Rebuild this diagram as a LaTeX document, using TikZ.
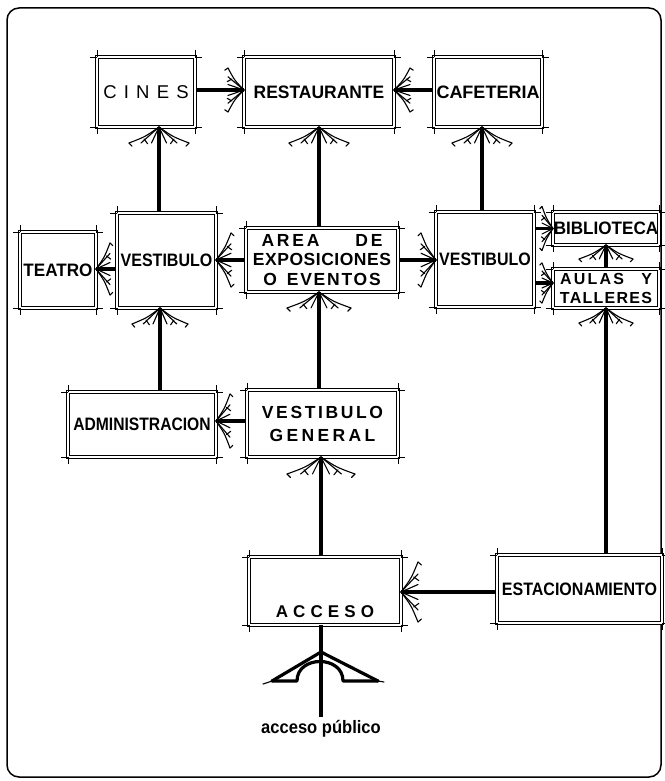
\documentclass[tikz,border=0pt]{standalone}
\usepackage{fontspec}
\setmainfont{Liberation Sans}
\usetikzlibrary{calc}
\newcommand\cnd{\bfseries\fontsize{18}{20}\selectfont}
\newcommand\ls[1]{\addfontfeature{LetterSpace=#1}}
\newcommand\sx[2]{\scalebox{#1}[1]{#2}}
\newcommand\fanarrow[4]{%
  \begin{scope}[shift={(#1)}, rotate=#2, x=1pt, y=1pt]
    \draw[fanline] (0,0) .. controls (-0.6*#4,0.45*#3) .. (-#4,#3);
    \draw[fanline] (0,0) .. controls (-0.6*#4,-0.45*#3) .. (-#4,-#3);
    \draw[fanline] (0,0) -- (-#4,0.6*#3);
    \draw[fanline] (0,0) -- (-#4,-0.6*#3);
    \draw[fanline] (0,0) -- (-#4,0.25*#3);
    \draw[fanline] (0,0) -- (-#4,-0.25*#3);
    \draw[fanline] (-0.75*#4,0.5*#3) -- (-1.05*#4,0.38*#3);
    \draw[fanline] (-0.75*#4,-0.5*#3) -- (-1.05*#4,-0.38*#3);
    \draw[fanline] (-#4,#3) -- (-1.2*#4,0.9*#3);
    \draw[fanline] (-#4,-#3) -- (-1.2*#4,-0.9*#3);
  \end{scope}}
\tikzset{
  room/.style={draw, line width=1.1pt, double=white, double distance=1.5pt,
    inner sep=0pt, outer sep=0pt, font=\cnd},
  conn/.style={line width=3.2pt, shorten <=2pt},
  fanline/.style={line width=1.1pt, line cap=round},
  tick/.style={line width=0.7pt},
  bigline/.style={line width=3.2pt, line join=round, line cap=round},
}
\begin{document}
\begin{tikzpicture}[x=1pt, y=-1pt]
\useasboundingbox (0,0) rectangle (664,781);
\draw[line width=1.5pt, rounded corners=12pt] (7,8) rectangle (661,777);

% rooms
\node[room, minimum width=98pt, minimum height=70pt,
  font=\fontsize{18.5}{20}\selectfont] (cines) at (146,92)
  {\ls{39}CINES};
\node[room, minimum width=150pt, minimum height=70pt] (rest) at (319,92) {\sx{0.97}{RESTAURANTE}};
\node[room, minimum width=108pt, minimum height=70pt] (cafe) at (488,92) {CAFETERIA};
\node[room, minimum width=76pt, minimum height=76pt] (teatro) at (58,270) {\sx{0.95}{TEATRO}};
\node[room, minimum width=99pt, minimum height=95pt] (vl) at (166.5,260.5) {\sx{0.89}{VESTIBULO}};
\node[room, minimum width=152pt, minimum height=64pt, align=center,
  font=\bfseries\fontsize{17.5}{19.5}\selectfont] (area) at (322,260)
  {\makebox[121pt]{\ls{16}AREA\hfill DE}\\{\ls{3}EXPOSICIONES}\\{\ls{10}O\hspace{10pt}EVENTOS}};
\node[room, minimum width=98pt, minimum height=95pt] (vr) at (485,259.5) {\sx{0.89}{VESTIBULO}};
\node[room, minimum width=106pt, minimum height=33pt] (bib) at (606,228.5) {\sx{0.95}{BIBLIOTECA}};
\node[room, minimum width=106pt, minimum height=39pt, align=center,
  font=\bfseries\fontsize{16}{19}\selectfont] (aulas) at (606,288.5)
  {\makebox[92pt]{\ls{14}AULAS\hfill Y}\\{\ls{8}TALLERES}};
\node[room, minimum width=148pt, minimum height=65pt] (adm) at (142,424.5)
  {\sx{0.87}{ADMINISTRACION}};
\node[room, minimum width=151pt, minimum height=67pt, align=center,
  font=\bfseries\fontsize{17.5}{23}\selectfont] (vg) at (322.5,423.5)
  {{\ls{15}VESTIBULO}\\{\ls{19}GENERAL}};
\node[room, minimum width=152pt, minimum height=68pt] (acceso) at (325,591) {};
\node[font=\bfseries\fontsize{17}{18}\selectfont] (accesolbl) at ([yshift=-21pt]acceso.center)
  {\ls{30}ACCESO};
\node[room, minimum width=165pt, minimum height=68pt] (est) at (579.5,589)
  {\sx{0.89}{ESTACIONAMIENTO}};
\node[font=\bfseries\fontsize{18}{20}\selectfont, inner sep=1pt] (publbl) at (321,729)
  {\sx{0.92}{acceso público}};

% corner ticks
\foreach \n in {cines,rest,cafe,teatro,vl,area,vr,bib,aulas,adm,vg,acceso,est}{
  \draw[tick] (\n.north west) -- ++(-7pt,0) (\n.north west) -- ++(0,7pt)
    (\n.north east) -- ++(7pt,0) (\n.north east) -- ++(0,7pt)
    (\n.south west) -- ++(-7pt,0) (\n.south west) -- ++(0,-7pt)
    (\n.south east) -- ++(7pt,0) (\n.south east) -- ++(0,-7pt);
}

% vertical connectors
\coordinate (a1) at ([xshift=-7.5pt]vl.north);
\coordinate (a2) at (a1 |- cines.south);
\draw[conn] (a1) -- (a2); \fanarrow{a2}{90}{30}{16}
\coordinate (b1) at (rest.south |- area.north);
\draw[conn] (b1) -- (rest.south); \fanarrow{rest.south}{90}{30}{16}
\coordinate (c1) at ([xshift=-3pt]vr.north);
\coordinate (c2) at (c1 |- cafe.south);
\draw[conn] (c1) -- (c2); \fanarrow{c2}{90}{30}{16}
\coordinate (d2) at ([xshift=-6.5pt]vl.south);
\coordinate (d1) at (d2 |- adm.north);
\draw[conn] (d1) -- (d2); \fanarrow{d2}{90}{28}{16}
\coordinate (e2) at ([xshift=-3pt]area.south);
\coordinate (e1) at (e2 |- vg.north);
\draw[conn] (e1) -- (e2); \fanarrow{e2}{90}{32}{16}
\coordinate (f2) at ([xshift=-1.5pt]vg.south);
\coordinate (f1) at (f2 |- acceso.north);
\draw[conn] (f1) -- (f2); \fanarrow{f2}{90}{34}{17}
\coordinate (g1) at (aulas.south |- est.north);
\draw[conn] (g1) -- (aulas.south); \fanarrow{aulas.south}{90}{27}{15}
\draw[conn] (aulas.north) -- (bib.south); \fanarrow{bib.south}{90}{27}{14}

% horizontal connectors
\coordinate (j1) at ([yshift=2pt]cines.east);
\coordinate (j2) at (rest.west |- j1);
\draw[conn] (j1) -- (j2); \fanarrow{j2}{0}{22}{16}
\coordinate (k2) at ([yshift=2pt]rest.east);
\coordinate (k1) at (cafe.west |- k2);
\draw[conn] (k1) -- (k2); \fanarrow{k2}{180}{22}{16}
\coordinate (l2) at ([yshift=1pt]teatro.east);
\coordinate (l1) at (vl.west |- l2);
\draw[conn] (l1) -- (l2); \fanarrow{l2}{180}{26}{14}
\coordinate (m2) at (vl.east |- area.west);
\draw[conn] (area.west) -- (m2); \fanarrow{m2}{180}{27}{15}
\coordinate (n2) at (vr.west |- area.east);
\draw[conn] (area.east) -- (n2); \fanarrow{n2}{0}{27}{15}
\coordinate (o1) at (vr.east |- bib.west);
\draw[conn] (o1) -- (bib.west); \fanarrow{bib.west}{0}{22}{11}
\coordinate (p2) at ([yshift=5.5pt]aulas.west);
\coordinate (p1) at (vr.east |- p2);
\draw[conn] (p1) -- (p2); \fanarrow{p2}{0}{20}{11}
\coordinate (q2) at ([yshift=3.5pt]adm.east);
\coordinate (q1) at (vg.west |- q2);
\draw[conn] (q1) -- (q2); \fanarrow{q2}{180}{27}{14}
\coordinate (r2) at ([yshift=-1pt]acceso.east);
\coordinate (r1) at (est.west |- r2);
\draw[conn] (r1) -- (r2); \fanarrow{r2}{180}{30}{17}

% public access
\coordinate (s1) at ([xshift=-4pt]acceso.south);
\coordinate (s2) at (s1 |- publbl.north);
\draw[conn] (s2) -- (s1);
\coordinate (bigtip) at ([yshift=-27pt]s1);
\begin{scope}[shift={(bigtip)}, x=1pt, y=1pt]
  \draw[bigline] (-49,-29) -- (0,0) -- (57,-29);
  \draw[bigline] (-49,-29) -- (-24,-29) .. controls (-24,-3) and (22,-3) .. (22,-29) -- (57,-29);
  \draw[fanline] (-49,-29) -- (-58,-32);
  \draw[fanline] (57,-29) -- (63,-30);
\end{scope}
\end{tikzpicture}
\end{document}
